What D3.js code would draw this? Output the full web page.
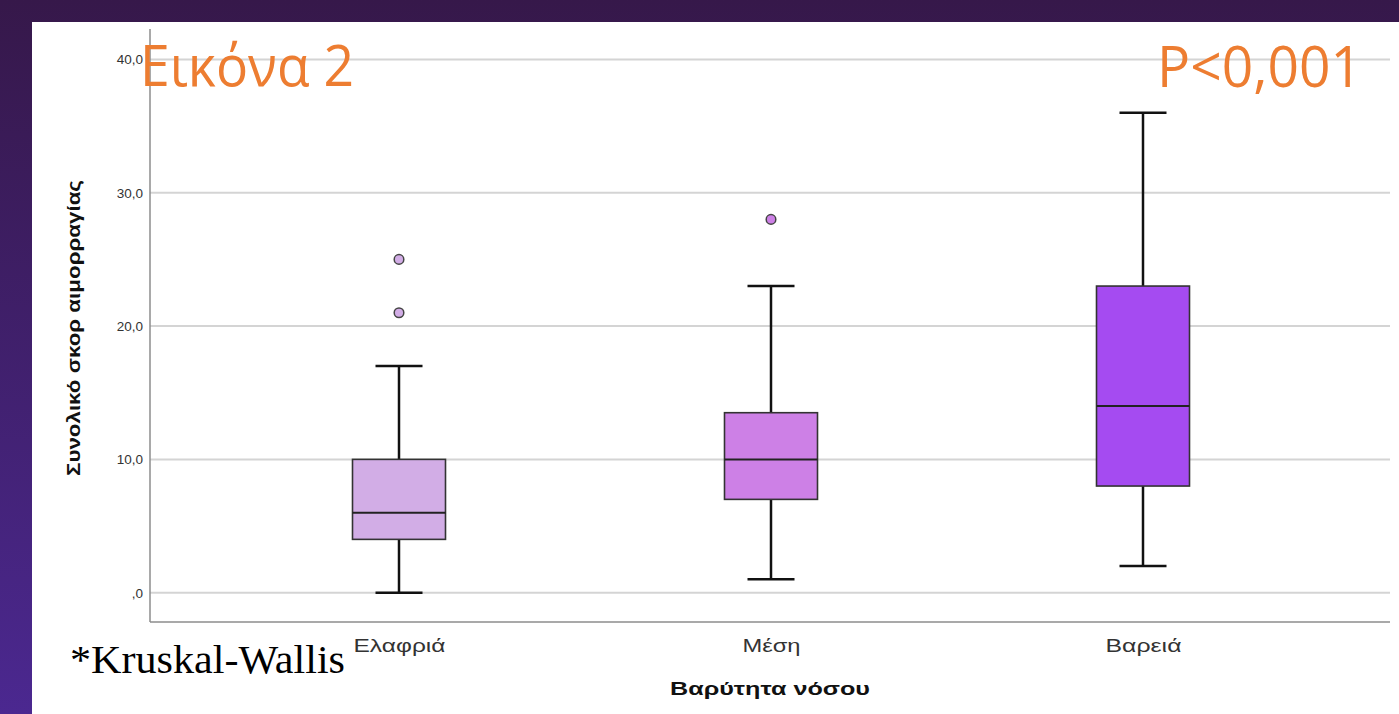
<!DOCTYPE html>
<html>
<head>
<meta charset="utf-8">
<script src="https://cdn.jsdelivr.net/npm/d3@7"></script>
<style>
  html, body { margin: 0; padding: 0; background: #3a1c56; }
  svg { display: block; }
</style>
</head>
<body>
<svg id="chart" width="1399" height="714"></svg>
<script>
// Bleeding score by disease severity
const categories = ["Ελαφριά", "Μέση", "Βαρειά"];
const whiskerLow  = [0, 1, 2];
const q1Values    = [4, 7, 8];
const medians     = [6, 10, 14];
const q3Values    = [10, 13.5, 23];
const whiskerHigh = [17, 23, 36];
const outliers    = [[21, 25], [28], []];
const boxColors   = ["#d2ade6", "#cd80e6", "#a54bf1"];
const yTicks      = [0, 10, 20, 30, 40];
const yTickLabels = [",0", "10,0", "20,0", "30,0", "40,0"];

const svg = d3.select("#chart");
const W = 1399, H = 714;

// Slide background
const defs = svg.append("defs");
const bg = defs.append("linearGradient").attr("id", "bg").attr("x1", 0).attr("y1", 0).attr("x2", 0).attr("y2", 1);
bg.append("stop").attr("offset", "0%").attr("stop-color", "#36184a");
bg.append("stop").attr("offset", "100%").attr("stop-color", "#4b2890");
svg.append("rect").attr("width", W).attr("height", H).attr("fill", "url(#bg)");

// White chart panel
svg.append("rect").attr("x", 32).attr("y", 22).attr("width", W - 32).attr("height", H - 22).attr("fill", "#ffffff");

const plot = { left: 150, right: 1390, top: 29, bottom: 622 };

const y = d3.scaleLinear().domain([0, 40]).range([592.7, 59.4]);
const x = d3.scalePoint().domain(categories).range([399, 1143]);

// Gridlines
svg.append("g").selectAll("line").data(yTicks).join("line")
  .attr("x1", plot.left).attr("x2", plot.right)
  .attr("y1", d => y(d)).attr("y2", d => y(d))
  .attr("stroke", "#d4d4d4").attr("stroke-width", 2);

// Y axis
const yAxis = d3.axisLeft(y).tickValues(yTicks)
  .tickFormat((d, i) => yTickLabels[i]).tickSize(0).tickPadding(7);
const yg = svg.append("g").attr("transform", `translate(${plot.left},0)`).call(yAxis);
yg.select(".domain").remove();
yg.selectAll("text").attr("font-family", "Liberation Sans, Arial, sans-serif")
  .attr("font-size", 13.5).attr("fill", "#333");

// Axis frame lines
svg.append("line").attr("x1", plot.left).attr("x2", plot.left)
  .attr("y1", plot.top).attr("y2", plot.bottom).attr("stroke", "#8c8c8c").attr("stroke-width", 1.5);
svg.append("line").attr("x1", plot.left).attr("x2", plot.right)
  .attr("y1", plot.bottom).attr("y2", plot.bottom).attr("stroke", "#8c8c8c").attr("stroke-width", 1.5);

// X axis labels (wide set)
const catWidths = { "Ελαφριά": 92, "Μέση": 58, "Βαρειά": 76 };
const xAxis = d3.axisBottom(x).tickSize(0).tickPadding(0);
const xg = svg.append("g").attr("transform", `translate(0,${plot.bottom})`).call(xAxis);
xg.select(".domain").remove();
xg.selectAll("text")
  .attr("dy", null).attr("y", 30)
  .attr("font-family", "Liberation Sans, Arial, sans-serif")
  .attr("font-size", 18).attr("fill", "#333")
  .attr("textLength", d => catWidths[d]).attr("lengthAdjust", "spacingAndGlyphs");

// Box plots
const boxW = 93, capW = 47;
const data = categories.map((c, i) => ({
  cat: c, lo: whiskerLow[i], q1: q1Values[i], med: medians[i], q3: q3Values[i],
  hi: whiskerHigh[i], out: outliers[i], color: boxColors[i]
}));

const g = svg.append("g").selectAll("g").data(data).join("g");

// whisker stems
g.append("line").attr("x1", d => x(d.cat)).attr("x2", d => x(d.cat))
  .attr("y1", d => y(d.hi)).attr("y2", d => y(d.q3)).attr("stroke", "#111").attr("stroke-width", 2.5);
g.append("line").attr("x1", d => x(d.cat)).attr("x2", d => x(d.cat))
  .attr("y1", d => y(d.q1)).attr("y2", d => y(d.lo)).attr("stroke", "#111").attr("stroke-width", 2.5);
// caps
g.append("line").attr("x1", d => x(d.cat) - capW / 2).attr("x2", d => x(d.cat) + capW / 2)
  .attr("y1", d => y(d.hi)).attr("y2", d => y(d.hi)).attr("stroke", "#111").attr("stroke-width", 2.5);
g.append("line").attr("x1", d => x(d.cat) - capW / 2).attr("x2", d => x(d.cat) + capW / 2)
  .attr("y1", d => y(d.lo)).attr("y2", d => y(d.lo)).attr("stroke", "#111").attr("stroke-width", 2.5);
// box
g.append("rect").attr("x", d => x(d.cat) - boxW / 2).attr("width", boxW)
  .attr("y", d => y(d.q3)).attr("height", d => y(d.q1) - y(d.q3))
  .attr("fill", d => d.color).attr("stroke", "#333").attr("stroke-width", 1.6);
// median
g.append("line").attr("x1", d => x(d.cat) - boxW / 2).attr("x2", d => x(d.cat) + boxW / 2)
  .attr("y1", d => y(d.med)).attr("y2", d => y(d.med)).attr("stroke", "#222").attr("stroke-width", 2);
// outliers
g.each(function(d) {
  d3.select(this).selectAll("circle").data(d.out).join("circle")
    .attr("cx", x(d.cat)).attr("cy", v => y(v)).attr("r", 4.8)
    .attr("fill", d.color).attr("stroke", "#444").attr("stroke-width", 1.5);
});

// Axis titles
svg.append("text").attr("transform", "translate(80,328) rotate(-90)")
  .attr("text-anchor", "middle").attr("font-family", "Liberation Sans, Arial, sans-serif")
  .attr("font-weight", "bold").attr("font-size", 19).attr("fill", "#111")
  .attr("textLength", 296).attr("lengthAdjust", "spacingAndGlyphs")
  .text("Συνολικό σκορ αιμορραγίας");
svg.append("text").attr("x", 770).attr("y", 695)
  .attr("text-anchor", "middle").attr("font-family", "Liberation Sans, Arial, sans-serif")
  .attr("font-weight", "bold").attr("font-size", 18).attr("fill", "#111")
  .attr("textLength", 200).attr("lengthAdjust", "spacingAndGlyphs")
  .text("Βαρύτητα νόσου");

// Annotations
svg.append("text").attr("x", 140).attr("y", 86)
  .attr("font-family", "Open Sans, Noto Sans, sans-serif").attr("font-size", 57)
  .attr("fill", "#ed7d31")
  .attr("textLength", 214).attr("lengthAdjust", "spacingAndGlyphs")
  .text("Εικόνα 2");
svg.append("text").attr("x", 1157).attr("y", 87)
  .attr("font-family", "Open Sans, Noto Sans, sans-serif").attr("font-size", 57)
  .attr("fill", "#ed7d31")
  .attr("textLength", 205).attr("lengthAdjust", "spacingAndGlyphs")
  .text("P<0,001");
svg.append("text").attr("x", 70).attr("y", 673)
  .attr("font-family", "Liberation Serif, Times New Roman, serif").attr("font-size", 40)
  .attr("fill", "#000")
  .attr("textLength", 275).attr("lengthAdjust", "spacingAndGlyphs")
  .text("*Kruskal-Wallis");
</script>
</body>
</html>
